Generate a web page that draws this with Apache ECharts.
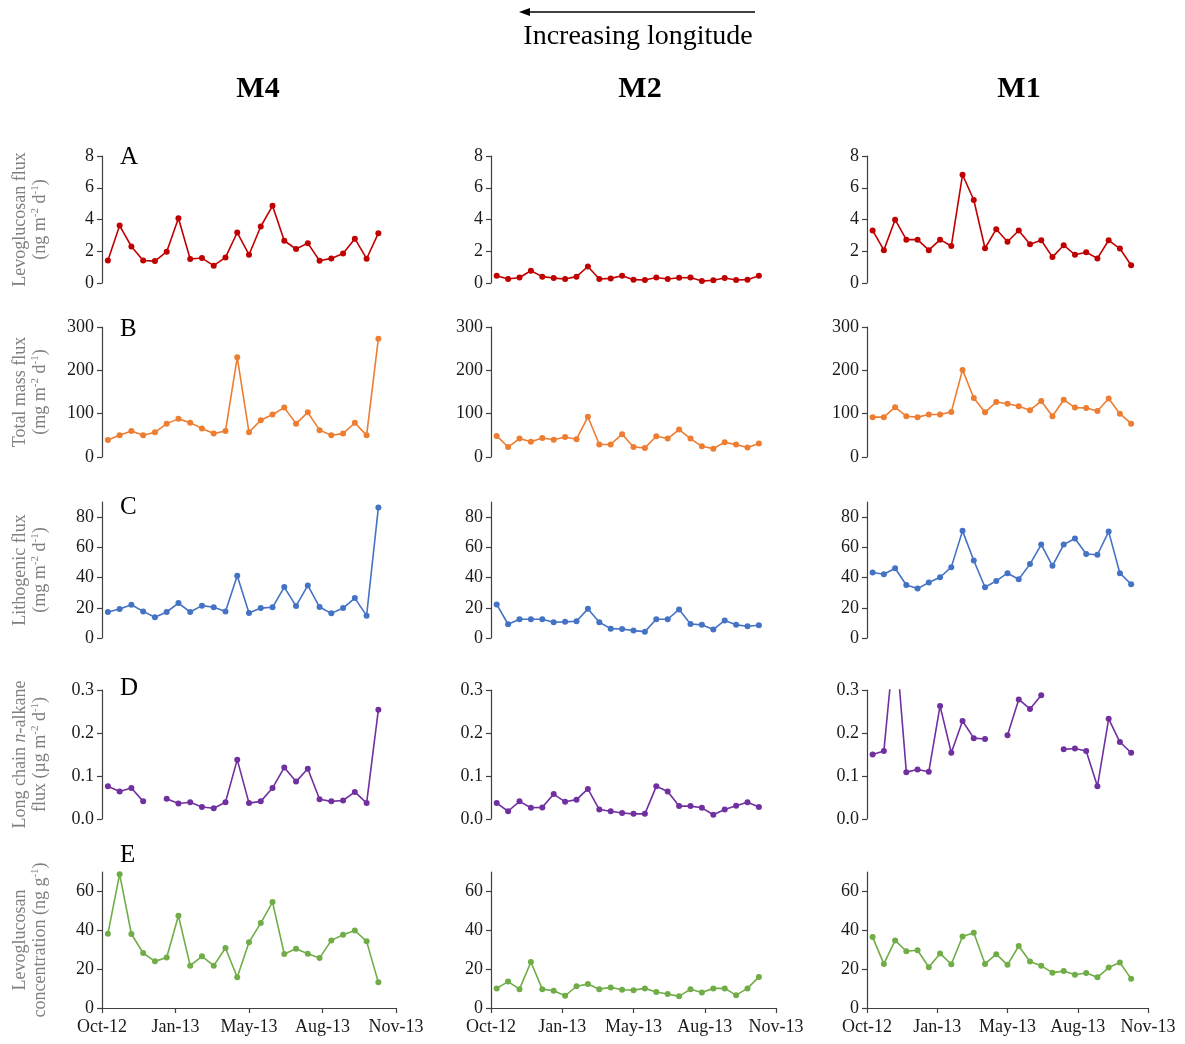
<!DOCTYPE html>
<html>
<head>
<meta charset="utf-8">
<script src="https://cdn.jsdelivr.net/npm/echarts@6/dist/echarts.min.js"></script>
<style>
html,body{margin:0;padding:0;background:#fff;}
#c{width:1185px;height:1044px;}
</style>
</head>
<body>
<div id="c"></div>
<script>
// ---- data ----
// sample dates: days after axis start (axis start = Oct-12)
const sampleDays = [8,24,40,56,72,88,104,120,136,152,168,184,200,216,232,248,264,280,296,312,328,344,360,376];
const xTickValues = [0,100,200,300,400];
const xTickLabels = ['Oct-12','Jan-13','May-13','Aug-13','Nov-13'];
const columns = ['M4','M2','M1'];
const rowLetters = ['A','B','C','D','E'];

const yTicksA = [0,2,4,6,8];
const yTicksB = [0,100,200,300];
const yTicksC = [0,20,40,60,80];
const yTicksD = [0,0.1,0.2,0.3];
const yTicksE = [0,20,40,60];

// M4
const m4Levo = [1.42,3.62,2.30,1.42,1.38,1.97,4.08,1.51,1.57,1.09,1.61,3.18,1.78,3.56,4.86,2.66,2.14,2.51,1.40,1.55,1.86,2.79,1.53,3.14];
const m4Mass = [39,50,60,50,57,77,88,79,66,54,60,230,57,85,98,114,77,103,62,50,54,79,50,273];
const m4Litho = [17.2,19.2,22,17.6,13.7,17.2,23.1,17.2,21.4,20.3,17.6,41.2,16.5,19.8,20.3,33.7,21.1,34.8,20.5,16.3,19.8,26.4,14.8,86.3];
const m4Alk = [0.076,0.064,0.072,0.041,null,0.047,0.036,0.039,0.028,0.025,0.039,0.138,0.037,0.041,0.072,0.120,0.087,0.117,0.046,0.041,0.043,0.063,0.037,0.254];
const m4Conc = [38.2,68.9,38.1,28.3,24,26,47.5,21.8,26.6,21.8,30.9,15.8,33.9,43.7,54.5,27.8,30.5,27.9,25.7,34.8,37.7,39.9,34.3,13.2];
// M2
const m2Levo = [0.46,0.25,0.35,0.77,0.40,0.31,0.25,0.40,1.04,0.25,0.29,0.46,0.21,0.19,0.35,0.25,0.33,0.35,0.12,0.17,0.31,0.19,0.21,0.46];
const m2Mass = [48.7,23,42.5,35,44,40,46,41,92.8,29,29,52.6,23,21,48,42.5,63.4,42.5,24.7,19.3,34,28.6,21.7,30.9];
const m2Litho = [22.2,9.1,12.4,12.4,12.4,10.4,10.7,11.1,19.3,10.4,6.2,6,4.9,4.2,12.4,12.4,18.9,9.3,8.7,5.6,11.6,8.7,7.8,8.4];
const m2Alk = [0.037,0.018,0.041,0.026,0.027,0.058,0.040,0.045,0.070,0.022,0.018,0.014,0.012,0.012,0.076,0.064,0.030,0.030,0.026,0.010,0.022,0.031,0.039,0.028];
const m2Conc = [10.1,13.6,9.7,23.7,9.7,8.9,6.3,11.2,12.3,9.7,10.6,9.4,9.2,10.1,8.2,7.2,6,9.7,8,10.1,10.1,6.6,10.1,16];
// M1
const m1Levo = [3.31,2.07,3.99,2.73,2.73,2.07,2.73,2.33,6.82,5.23,2.19,3.39,2.60,3.31,2.44,2.69,1.63,2.38,1.78,1.94,1.55,2.69,2.17,1.12];
const m1Mass = [92,92,115,94,92,98,98,104,201,136,103,127,123,117,108,129,94,132,114,113,106,135,100,77];
const m1Litho = [43.3,42.2,46.2,35.1,32.7,36.7,40.2,46.9,70.9,51.3,33.6,37.8,42.9,38.9,48.9,61.8,47.8,61.8,65.8,55.6,55.1,70.4,42.9,35.6];
const m1Alk = [0.150,0.158,0.43,0.109,0.115,0.110,0.263,0.154,0.228,0.188,0.186,null,0.195,0.278,0.256,0.288,null,0.162,0.164,0.158,0.076,0.233,0.179,0.154];
const m1Conc = [36.5,22.7,34.8,29.2,29.7,21,28.1,22.5,36.8,38.7,22.7,27.7,22.2,31.9,23.9,21.7,18.2,19,17.1,18,15.8,20.8,23.4,15];

// ---- layout / styles ----
const FONT = '"Liberation Serif", "Times New Roman", serif';
const colLayout = [{left:102,width:294},{left:491,width:285},{left:867,width:281}];
const rowLayout = [{top:156,height:127},{top:327,height:130},{top:502,height:136},{top:690,height:129},{top:872,height:136}];
const rowDefs = [
  {max:8,   ticks:yTicksA, dec:0, color:'#C00000', name:'{t|Levoglucosan flux}\n{t|(ng m}{s|-2}{t| d}{s|-1}{t|)}'},
  {max:300, ticks:yTicksB, dec:0, color:'#ED7D31', name:'{t|Total mass flux}\n{t|(mg m}{s|-2}{t| d}{s|-1}{t|)}'},
  {max:90,  ticks:yTicksC, dec:0, color:'#4472C4', name:'{t|Lithogenic flux}\n{t|(mg m}{s|-2}{t| d}{s|-1}{t|)}'},
  {max:0.3, ticks:yTicksD, dec:1, color:'#7030A0', name:'{t|Long chain }{i|n}{t|-alkane}\n{t|flux (µg m}{s|-2}{t| d}{s|-1}{t|)}'},
  {max:70,  ticks:yTicksE, dec:0, color:'#70AD47', name:'{t|Levoglucosan}\n{t|concentration (ng g}{s|-1}{t|)}'}
];
const seriesData = [
  [m4Levo, m2Levo, m1Levo],
  [m4Mass, m2Mass, m1Mass],
  [m4Litho, m2Litho, m1Litho],
  [m4Alk, m2Alk, m1Alk],
  [m4Conc, m2Conc, m1Conc]
];
const AXIS_COLOR = '#404040';
const LABEL_COLOR = '#1a1a1a';

const grid = [], xAxis = [], yAxis = [], series = [];
let idx = 0;
for (let r = 0; r < 5; r++) {
  for (let c = 0; c < 3; c++) {
    const rd = rowDefs[r];
    grid.push({left: colLayout[c].left, width: colLayout[c].width, top: rowLayout[r].top, height: rowLayout[r].height, containLabel: false});
    const isBottom = r === 4;
    xAxis.push({
      type:'value', gridIndex: idx, min:0, max:400,
      splitLine:{show:false},
      axisLine:{show:isBottom, onZero:false, lineStyle:{color:AXIS_COLOR, width:1.2}},
      axisTick:{show:isBottom, customValues:xTickValues, length:5, inside:false, lineStyle:{color:AXIS_COLOR, width:1.2}},
      axisLabel:{show:isBottom, customValues:xTickValues, margin:10, color:LABEL_COLOR, fontFamily:FONT, fontSize:18,
        formatter: v => { const i = xTickValues.indexOf(v); return i >= 0 ? xTickLabels[i] : ''; }}
    });
    const yA = {
      type:'value', gridIndex: idx, min:0, max:rd.max,
      splitLine:{show:false},
      axisLine:{show:true, onZero:false, lineStyle:{color:AXIS_COLOR, width:1.2}},
      axisTick:{show:true, customValues:rd.ticks, length:5, inside:false, lineStyle:{color:AXIS_COLOR, width:1.2}},
      axisLabel:{show:true, customValues:rd.ticks, margin:8, color:LABEL_COLOR, fontFamily:FONT, fontSize:18,
        formatter: v => Number(v).toFixed(rd.dec)}
    };
    if (c === 0) {
      yA.name = rd.name;
      yA.nameLocation = 'middle';
      yA.nameRotate = 90;
      yA.nameGap = 52;
      yA.nameTextStyle = {
        color:'#7f7f7f', fontFamily:FONT, fontSize:18, lineHeight:20,
        rich:{
          t:{color:'#7f7f7f', fontFamily:FONT, fontSize:18, lineHeight:20},
          i:{color:'#7f7f7f', fontFamily:FONT, fontSize:18, fontStyle:'italic', lineHeight:20},
          s:{color:'#7f7f7f', fontFamily:FONT, fontSize:11, lineHeight:20, verticalAlign:'top', padding:[0,0,8,0]}
        }
      };
    }
    yAxis.push(yA);
    const vals = seriesData[r][c];
    series.push({
      type:'line', xAxisIndex: idx, yAxisIndex: idx,
      data: sampleDays.map((d, k) => [d, vals[k]]),
      connectNulls:false, clip:true, animation:false,
      symbol:'circle', symbolSize:6, showAllSymbol:true,
      lineStyle:{color:rd.color, width:1.6},
      itemStyle:{color:rd.color}
    });
    idx++;
  }
}

const letterY = [157, 329, 507, 688, 855];
const graphic = [];
rowLetters.forEach((L, i) => {
  graphic.push({type:'text', x:120, y:letterY[i], style:{text:L, font:'25px ' + FONT, fill:'#000', align:'left', verticalAlign:'middle'}});
});
const headerX = [258, 640, 1019];
columns.forEach((m, i) => {
  graphic.push({type:'text', x:headerX[i], y:89, style:{text:m, font:'bold 30px ' + FONT, fill:'#000', align:'center', verticalAlign:'middle'}});
});
graphic.push({type:'text', x:638, y:37, style:{text:'Increasing longitude', font:'28px ' + FONT, fill:'#000', align:'center', verticalAlign:'middle'}});
graphic.push({type:'line', shape:{x1:755, y1:12, x2:528, y2:12}, style:{stroke:'#000', lineWidth:1.5}});
graphic.push({type:'polygon', shape:{points:[[519,12],[530,8],[530,16]]}, style:{fill:'#000'}});

const chart = echarts.init(document.getElementById('c'), null, {renderer:'canvas'});
chart.setOption({
  backgroundColor:'#fff',
  animation:false,
  textStyle:{fontFamily:FONT},
  grid, xAxis, yAxis, series, graphic
});
</script>
</body>
</html>
